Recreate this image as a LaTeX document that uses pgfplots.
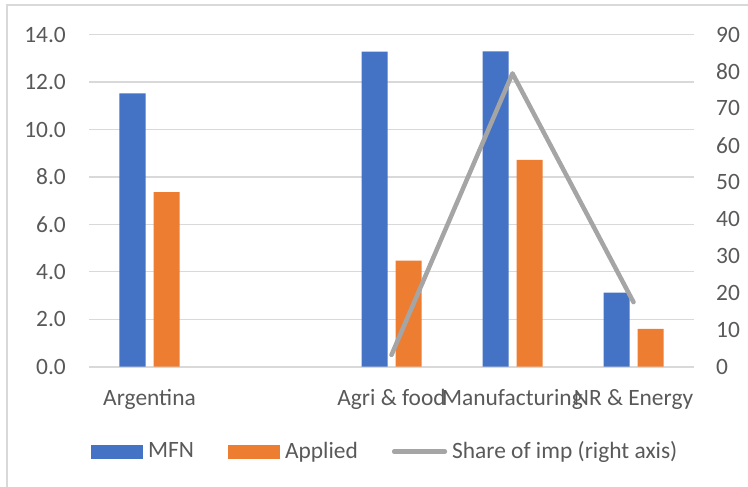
\documentclass[border=0pt]{standalone}
\usepackage{fontspec}
\setmainfont{Carlito}
\usepackage{pgfplots}
\usepackage{pgfplotstable}
\pgfplotsset{compat=1.18}

\definecolor{mfnblue}{HTML}{4472C4}
\definecolor{appliedorange}{HTML}{ED7D31}
\definecolor{sharegray}{HTML}{A5A5A5}
\definecolor{gridgray}{HTML}{D9D9D9}
\definecolor{labelgray}{HTML}{595959}

% Average tariffs (%): MFN and applied, by group
\pgfplotstableread{
x mfn applied
0 11.53 7.36
2 13.29 4.47
3 13.30 8.72
4 3.12 1.60
}\tariffs

% Share of imports (%), right axis
\pgfplotstableread{
x share
2 3.2
3 79.5
4 17.5
}\shares

\newcommand{\chartfont}{\fontsize{23.5}{28}\selectfont}

\begin{document}
\begin{tikzpicture}
\path[use as bounding box] (0bp,0bp) rectangle (748bp,487bp);
\clip (0bp,0bp) rectangle (748bp,487bp);
% chart frame
\draw[gridgray, line width=1.5bp] (7bp,-10bp) -- (7bp,482bp) -- (760bp,482bp);

\begin{axis}[
  at={(89bp,120.3bp)}, anchor=south west,
  scale only axis, width=605bp, height=332bp,
  xmin=-0.5, xmax=4.5, ymin=0, ymax=14,
  axis x line*=bottom, axis y line*=left,
  y axis line style={draw=none},
  x axis line style={gridgray, line width=1.6bp},
  ymajorgrids, grid style={gridgray, line width=1.3bp},
  major tick length=0pt,
  ytick={0,2,...,14},
  yticklabel style={anchor=east, inner sep=0pt, xshift=-23bp},
  /pgf/number format/.cd, fixed, fixed zerofill, precision=1, assume math mode=true,
  /pgfplots/.cd,
  xtick={0,1,2,3,4},
  xticklabels={Argentina,,Agri \& food,Manufacturing,NR \& Energy},
  xticklabel style={anchor=base, inner sep=0pt, yshift=-39bp},
  tick label style={font=\chartfont, text=labelgray},
  legend style={
    at={(axis description cs:0.0033,-0.254)}, anchor=west,
    draw=none, fill=none, inner sep=0pt,
    font=\chartfont, text=labelgray,
    legend columns=3,
    nodes={inner sep=0pt},
    /tikz/every odd column/.append style={column sep=5bp},
    /tikz/every even column/.append style={column sep=34bp},
  },
  legend cell align=left,
]
\addplot[ybar, bar width=26bp, bar shift=-17bp, fill=mfnblue, draw=none,
  legend image code/.code={\fill[mfnblue] (0bp,-7.5bp) rectangle (52bp,6.5bp);}]
  table[x=x, y=mfn] {\tariffs};
\addlegendentry{MFN}
\addplot[ybar, bar width=26bp, bar shift=17bp, fill=appliedorange, draw=none,
  legend image code/.code={\fill[appliedorange] (0bp,-7.5bp) rectangle (52bp,6.5bp);}]
  table[x=x, y=applied] {\tariffs};
\addlegendentry{Applied}
\addlegendimage{legend image code/.code={\draw[sharegray, line width=4.5bp, line cap=round] (2.25bp,-0.5bp) -- (53bp,-0.5bp);}}
\addlegendentry{Share of imp (right axis)}
\end{axis}

\begin{axis}[
  at={(89bp,120.3bp)}, anchor=south west,
  scale only axis, width=605bp, height=332bp,
  xmin=-0.5, xmax=4.5, ymin=0, ymax=90,
  axis x line=none, axis y line*=right,
  y axis line style={draw=none},
  major tick length=0pt,
  ytick={0,10,...,90},
  yticklabel style={anchor=west, inner sep=0pt, xshift=22bp},
  /pgf/number format/assume math mode=true,
  tick label style={font=\chartfont, text=labelgray},
]
\addplot[sharegray, line width=4.5bp, line cap=round, line join=round]
  table[x=x, y=share] {\shares};
\end{axis}
\end{tikzpicture}
\end{document}
